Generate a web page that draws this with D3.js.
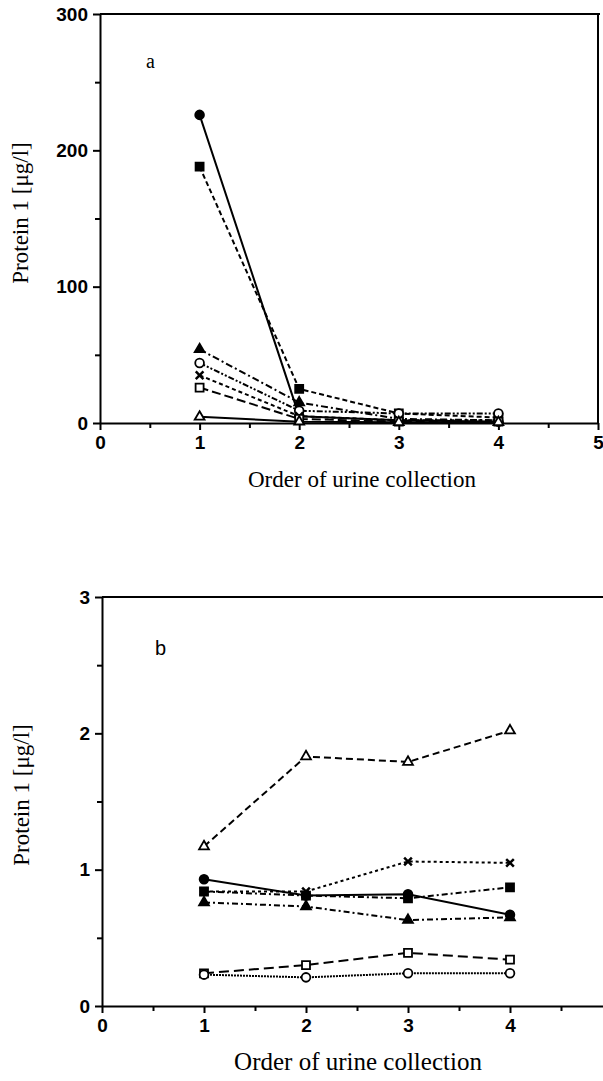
<!DOCTYPE html>
<html>
<head>
<meta charset="utf-8">
<script src="https://cdn.jsdelivr.net/npm/d3@7"></script>
<style>
  body { margin: 0; background: #fff; }
  .axis path, .axis line { stroke: #000; stroke-width: 2px; }
  .title { font-family: "Liberation Serif", "Times New Roman", serif; fill: #000; }
</style>
</head>
<body>
<script>
// x categories (order of urine collection)
var collections = [1, 2, 3, 4];

// panel a values, ug/l
var aFilledCircle   = [226, 5, 2, 1];
var aFilledSquare   = [188, 25, 7, 4];
var aFilledTriangle = [54, 15, 3, 2];
var aOpenCircle     = [44, 9, 7, 7];
var aCross          = [35, 5, 2, 2];
var aOpenSquare     = [26, 3, 1, 1];
var aOpenTriangle   = [4.5, 1, 0.5, 0.5];

// panel b values, ug/l
var bOpenTriangle   = [1.17, 1.83, 1.79, 2.02];
var bCross          = [0.84, 0.84, 1.06, 1.05];
var bFilledSquare   = [0.84, 0.81, 0.79, 0.87];
var bFilledCircle   = [0.93, 0.81, 0.82, 0.67];
var bFilledTriangle = [0.76, 0.73, 0.63, 0.65];
var bOpenSquare     = [0.24, 0.30, 0.39, 0.34];
var bOpenCircle     = [0.23, 0.21, 0.24, 0.24];

// tick labels
var aYTicks = [0, 100, 200, 300];
var bYTicks = [0, 1, 2, 3];
var xTicksA = [0, 1, 2, 3, 4, 5];
var xTicksB = [0, 1, 2, 3, 4];

var svg = d3.select("body").append("svg")
    .attr("width", 603)
    .attr("height", 1081);

// marker shapes and sizes
var shapes = {
  circle: d3.symbolCircle,
  square: d3.symbolSquare,
  triangle: d3.symbolTriangle,
  cross: d3.symbolTimes
};
var sizes = {circle: 60, square: 64, triangle: 42, cross: 40};

function styleTicks(sel) {
  sel.attr("font-family", "Liberation Sans, Arial, sans-serif")
     .attr("font-size", 19)
     .attr("font-weight", "bold");
}

function drawPanel(p) {
  var g = svg.append("g");
  var x = d3.scaleLinear().domain([0, 5]).range(p.xRange),
      y = d3.scaleLinear().domain(p.yDomain).range(p.yRange);

  // frame: top line and (optional) right line
  g.append("line")
      .attr("x1", p.xRange[0]).attr("x2", p.frameRight)
      .attr("y1", p.yRange[1]).attr("y2", p.yRange[1])
      .attr("stroke", "#000").attr("stroke-width", 2);
  if (p.rightLine) {
    g.append("line")
        .attr("x1", x(5)).attr("x2", x(5))
        .attr("y1", p.yRange[1]).attr("y2", p.yRange[0])
        .attr("stroke", "#000").attr("stroke-width", 2);
  }

  // minor ticks
  var step = (p.yDomain[1] - p.yDomain[0]) / 6;
  g.append("g")
      .attr("class", "axis")
      .attr("transform", "translate(" + p.xRange[0] + ",0)")
      .call(d3.axisLeft(y).tickValues(d3.range(1, 6, 2).map(function(i) { return i * step; }))
        .tickSize(5).tickFormat(""))
      .select(".domain").remove();
  g.append("g")
      .attr("class", "axis")
      .attr("transform", "translate(0," + p.yRange[0] + ")")
      .call(d3.axisBottom(x).tickValues([0.5, 1.5, 2.5, 3.5, 4.5]).tickSize(5).tickFormat(""))
      .select(".domain").remove();

  // major axes
  g.append("g")
      .attr("class", "axis")
      .attr("transform", "translate(" + p.xRange[0] + ",0)")
      .call(d3.axisLeft(y).tickValues(p.yTicks).tickFormat(d3.format("d"))
        .tickSize(7).tickSizeOuter(0).tickPadding(5))
      .call(styleTicks);
  g.append("g")
      .attr("class", "axis")
      .attr("transform", "translate(0," + p.yRange[0] + ")")
      .call(d3.axisBottom(x).tickValues(p.xTicks).tickFormat(d3.format("d"))
        .tickSize(7).tickSizeOuter(0).tickPadding(6))
      .call(styleTicks);

  // lines and markers
  var line = d3.line()
      .x(function(d, i) { return x(collections[i]); })
      .y(function(d) { return y(d); });

  p.series.forEach(function(s) {
    g.append("path")
        .attr("d", line(s.values))
        .attr("fill", "none")
        .attr("stroke", "#000")
        .attr("stroke-width", 2)
        .attr("stroke-dasharray", s.dash);
    g.selectAll(null)
        .data(s.values)
      .enter().append("path")
        .attr("transform", function(d, i) { return "translate(" + x(collections[i]) + "," + y(d) + ")"; })
        .attr("d", d3.symbol().type(shapes[s.shape]).size(sizes[s.shape]))
        .attr("fill", s.filled ? "#000" : "#fff")
        .attr("stroke", "#000")
        .attr("stroke-width", s.shape == "cross" ? 2.5 : 1.8);
  });

  // panel letter
  g.append("text")
      .attr("x", p.letterPos[0]).attr("y", p.letterPos[1])
      .style("font-family", p.letterFont)
      .style("font-size", "20px")
      .text(p.letter);

  // axis titles
  g.append("text")
      .attr("class", "title")
      .attr("x", p.xTitlePos[0]).attr("y", p.xTitlePos[1])
      .style("font-size", p.titleSize)
      .style("text-anchor", "middle")
      .text("Order of urine collection");
  g.append("text")
      .attr("class", "title")
      .attr("transform", "translate(" + p.yTitlePos[0] + "," + p.yTitlePos[1] + ") rotate(-90)")
      .style("font-size", "23px")
      .style("text-anchor", "middle")
      .text("Protein 1 [\u03bcg/l]");
}

drawPanel({
  xRange: [100, 598], yDomain: [0, 300], yRange: [423, 14],
  frameRight: 600, rightLine: true,
  yTicks: aYTicks, xTicks: xTicksA,
  letter: "a", letterPos: [146, 68], letterFont: "Liberation Serif",
  xTitlePos: [362, 487], titleSize: "23px", yTitlePos: [28, 213],
  series: [
    {values: aFilledCircle, shape: "circle", filled: true, dash: null},
    {values: aFilledSquare, shape: "square", filled: true, dash: "5,3"},
    {values: aFilledTriangle, shape: "triangle", filled: true, dash: "7,3,2,3"},
    {values: aOpenCircle, shape: "circle", filled: false, dash: "6,2,2,2,2,2"},
    {values: aCross, shape: "cross", filled: true, dash: "4,3"},
    {values: aOpenSquare, shape: "square", filled: false, dash: "9,4"},
    {values: aOpenTriangle, shape: "triangle", filled: false, dash: null}
  ]
});

drawPanel({
  xRange: [102, 612], yDomain: [0, 3], yRange: [1006, 597],
  frameRight: 603, rightLine: false,
  yTicks: bYTicks, xTicks: xTicksB,
  letter: "b", letterPos: [155, 655], letterFont: "Liberation Sans",
  xTitlePos: [358, 1070], titleSize: "25px", yTitlePos: [29, 795],
  series: [
    {values: bOpenTriangle, shape: "triangle", filled: false, dash: "7,4"},
    {values: bCross, shape: "cross", filled: true, dash: "3,3"},
    {values: bFilledSquare, shape: "square", filled: true, dash: "6,3,2,3"},
    {values: bFilledCircle, shape: "circle", filled: true, dash: null},
    {values: bFilledTriangle, shape: "triangle", filled: true, dash: "6,3,2,3"},
    {values: bOpenSquare, shape: "square", filled: false, dash: "10,5"},
    {values: bOpenCircle, shape: "circle", filled: false, dash: "2,1"}
  ]
});
</script>
</body>
</html>
